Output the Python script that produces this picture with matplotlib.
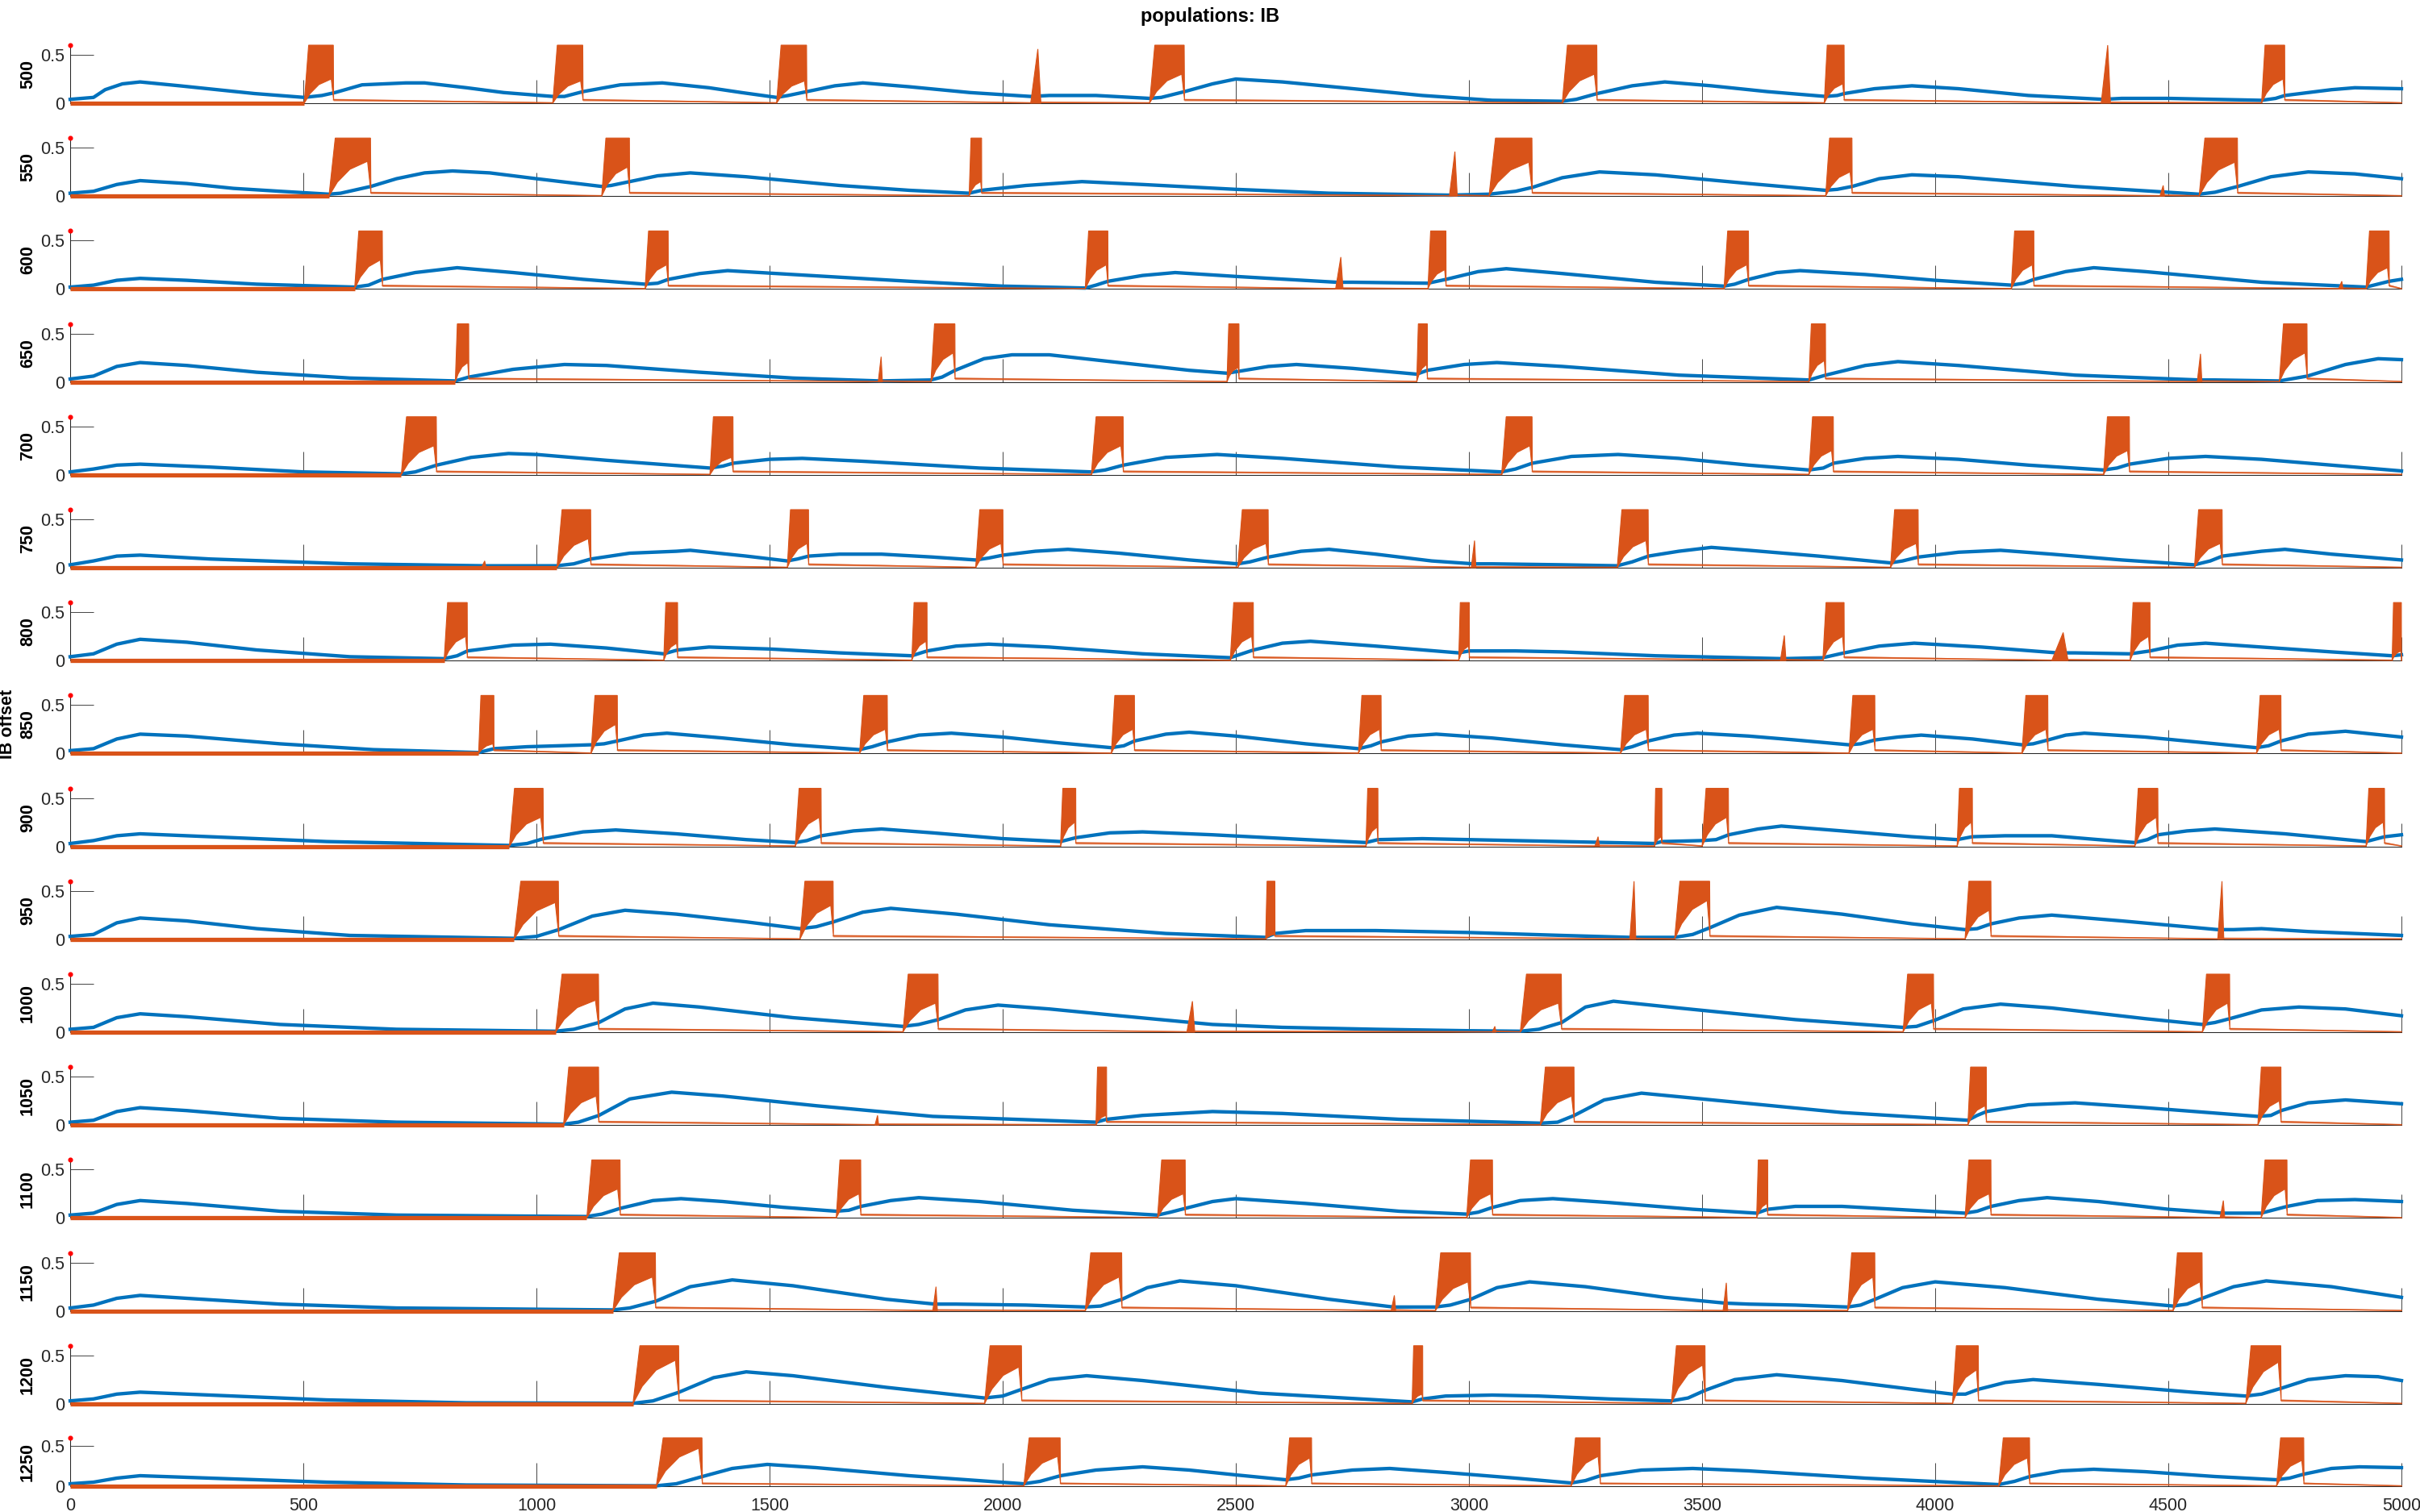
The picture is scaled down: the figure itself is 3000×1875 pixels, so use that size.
import matplotlib.pyplot as plt

plt.rcParams['font.family'] = ['Liberation Sans', 'DejaVu Sans']

BLUE = '#0072BD'
ORANGE = '#D95319'
AXIS = '#262626'
TOP = 0.6          # y limit; the bursts run past it and get cut
TAIL = 0.035       # orange level just after a full burst

offsets = [500, 550, 600, 650, 700, 750, 800, 850,
           900, 950, 1000, 1050, 1100, 1150, 1200, 1250]
x_ticks = list(range(0, 5001, 500))
y_ticks = [0, 0.5]

# bursts of the orange trace: (start ms, end ms, peak, lower envelope)
# lower envelope 0 means a single narrow spike
bursts_500 = [(502, 565, 0.6, 0.25), (1035, 1100, 0.6, 0.23), (1515, 1580, 0.6, 0.23),
              (2060, 2082, 0.56, 0), (2315, 2390, 0.6, 0.3), (3200, 3275, 0.6, 0.3),
              (3762, 3805, 0.6, 0.2), (4356, 4376, 0.6, 0), (4700, 4750, 0.6, 0.25)]
bursts_550 = [(555, 645, 0.6, 0.36), (1140, 1200, 0.6, 0.3), (1928, 1955, 0.6, 0.15),
              (2958, 2975, 0.46, 0), (3043, 3136, 0.6, 0.35), (3765, 3822, 0.6, 0.25),
              (4482, 4492, 0.11, 0), (4566, 4649, 0.6, 0.35)]
bursts_600 = [(610, 670, 0.6, 0.3), (1233, 1283, 0.6, 0.25), (2177, 2226, 0.6, 0.25),
              (2714, 2730, 0.33, 0), (2912, 2951, 0.6, 0.2), (3547, 3600, 0.6, 0.25),
              (4163, 4212, 0.6, 0.25), (4865, 4875, 0.08, 0), (4924, 4974, 0.6, 0.22)]
bursts_650 = [(826, 855, 0.6, 0.2), (1733, 1742, 0.26, 0), (1846, 1898, 0.6, 0.3),
              (2481, 2507, 0.6, 0.15), (2888, 2911, 0.6, 0.18), (3729, 3765, 0.6, 0.22),
              (4562, 4572, 0.29, 0), (4738, 4798, 0.6, 0.3)]
bursts_700 = [(710, 786, 0.6, 0.3), (1372, 1422, 0.6, 0.18), (2190, 2259, 0.6, 0.3),
              (3070, 3136, 0.6, 0.3), (3729, 3782, 0.6, 0.25), (4361, 4417, 0.6, 0.25)]
bursts_750 = [(882, 892, 0.07, 0), (1044, 1117, 0.6, 0.3), (1538, 1584, 0.6, 0.25),
              (1942, 2001, 0.6, 0.25), (2504, 2570, 0.6, 0.25), (3005, 3015, 0.28, 0),
              (3318, 3385, 0.6, 0.28), (3904, 3964, 0.6, 0.25), (4556, 4616, 0.6, 0.25)]
bursts_800 = [(802, 852, 0.6, 0.25), (1273, 1303, 0.6, 0.18), (1805, 1838, 0.6, 0.2),
              (2488, 2538, 0.6, 0.25), (2978, 3001, 0.6, 0.15), (3668, 3680, 0.26, 0),
              (3759, 3805, 0.6, 0.25), (4250, 4285, 0.29, 0), (4418, 4461, 0.6, 0.25),
              (4980, 5000, 0.6, 0.1)]
bursts_850 = [(876, 909, 0.6, 0.1), (1117, 1174, 0.6, 0.3), (1693, 1753, 0.6, 0.25),
              (2233, 2283, 0.6, 0.25), (2763, 2812, 0.6, 0.25), (3325, 3385, 0.6, 0.25),
              (3815, 3871, 0.6, 0.25), (4186, 4242, 0.6, 0.25), (4689, 4742, 0.6, 0.25)]
bursts_900 = [(942, 1015, 0.6, 0.3), (1555, 1611, 0.6, 0.3), (2124, 2157, 0.6, 0.25),
              (2779, 2805, 0.6, 0.2), (3270, 3280, 0.1, 0), (3398, 3414, 0.6, 0.1),
              (3500, 3557, 0.6, 0.3), (4047, 4080, 0.6, 0.25), (4428, 4478, 0.6, 0.3),
              (4924, 4964, 0.6, 0.25)]
bursts_950 = [(952, 1048, 0.6, 0.38), (1565, 1637, 0.6, 0.35), (2564, 2584, 0.6, 0.05),
              (3345, 3358, 0.6, 0), (3441, 3517, 0.6, 0.4), (4064, 4120, 0.6, 0.3),
              (4606, 4619, 0.6, 0)]
bursts_1000 = [(1041, 1134, 0.6, 0.33), (1786, 1862, 0.6, 0.3), (2395, 2412, 0.32, 0),
               (3050, 3058, 0.06, 0), (3110, 3199, 0.6, 0.3), (3931, 3997, 0.6, 0.3),
               (4573, 4632, 0.6, 0.3)]
bursts_1050 = [(1058, 1134, 0.6, 0.3), (1726, 1734, 0.1, 0), (2200, 2223, 0.6, 0.1),
               (3153, 3226, 0.6, 0.3), (4070, 4110, 0.6, 0.2), (4692, 4742, 0.6, 0.25)]
bursts_1100 = [(1108, 1180, 0.6, 0.3), (1643, 1696, 0.6, 0.25), (2332, 2392, 0.6, 0.25),
               (2995, 3051, 0.6, 0.25), (3617, 3641, 0.6, 0.15), (4064, 4120, 0.6, 0.25),
               (4611, 4621, 0.18, 0), (4699, 4755, 0.6, 0.3)]
bursts_1150 = [(1164, 1256, 0.6, 0.35), (1850, 1860, 0.25, 0), (2177, 2256, 0.6, 0.35),
               (2833, 2843, 0.16, 0), (2928, 3004, 0.6, 0.3), (3545, 3555, 0.29, 0),
               (3812, 3871, 0.6, 0.35), (4510, 4573, 0.6, 0.3)]
bursts_1200 = [(1207, 1306, 0.6, 0.45), (1961, 2041, 0.6, 0.38), (2878, 2901, 0.6, 0.1),
               (3434, 3507, 0.6, 0.4), (4037, 4093, 0.6, 0.35), (4666, 4742, 0.6, 0.43)]
bursts_1250 = [(1257, 1356, 0.6, 0.47), (2045, 2124, 0.6, 0.37), (2607, 2663, 0.6, 0.35),
               (3219, 3282, 0.6, 0.37), (4136, 4203, 0.6, 0.35), (4732, 4791, 0.6, 0.32)]

# blue trace, (ms, value)
blue_500 = [(0, 0.04), (50, 0.06), (75, 0.14), (112, 0.2), (150, 0.22), (235, 0.18),
            (315, 0.14), (395, 0.1), (502, 0.06), (540, 0.08), (568, 0.11), (626, 0.19),
            (720, 0.21), (760, 0.21), (850, 0.16), (930, 0.11), (1035, 0.07), (1060, 0.07),
            (1100, 0.12), (1180, 0.19), (1270, 0.21), (1370, 0.16), (1440, 0.11),
            (1515, 0.06), (1540, 0.08), (1580, 0.12), (1640, 0.18), (1700, 0.21),
            (1800, 0.17), (1930, 0.11), (2060, 0.07), (2100, 0.08), (2200, 0.08),
            (2315, 0.05), (2340, 0.06), (2390, 0.12), (2450, 0.2), (2500, 0.25),
            (2600, 0.22), (2730, 0.16), (2900, 0.08), (3050, 0.03), (3200, 0.02),
            (3230, 0.04), (3275, 0.1), (3350, 0.18), (3420, 0.22), (3520, 0.18),
            (3640, 0.12), (3765, 0.07), (3790, 0.08), (3805, 0.1), (3870, 0.15),
            (3950, 0.18), (4050, 0.15), (4200, 0.08), (4360, 0.04), (4400, 0.05),
            (4500, 0.05), (4700, 0.03), (4730, 0.05), (4750, 0.08), (4850, 0.14),
            (4900, 0.16), (5000, 0.15)]
blue_550 = [(0, 0.03), (50, 0.05), (100, 0.12), (150, 0.16), (250, 0.13), (350, 0.08),
            (450, 0.05), (555, 0.02), (580, 0.03), (645, 0.1), (700, 0.18), (760, 0.24),
            (820, 0.26), (900, 0.24), (1000, 0.18), (1140, 0.1), (1160, 0.11),
            (1200, 0.15), (1260, 0.21), (1330, 0.24), (1450, 0.2), (1650, 0.11),
            (1800, 0.06), (1928, 0.03), (1955, 0.06), (2050, 0.11), (2170, 0.15),
            (2300, 0.12), (2500, 0.07), (2700, 0.03), (2960, 0.01), (3043, 0.02),
            (3100, 0.05), (3136, 0.09), (3200, 0.19), (3280, 0.25), (3400, 0.22),
            (3600, 0.13), (3765, 0.06), (3790, 0.07), (3822, 0.1), (3880, 0.18),
            (3950, 0.22), (4050, 0.2), (4300, 0.1), (4566, 0.02), (4600, 0.04),
            (4649, 0.1), (4720, 0.2), (4800, 0.25), (4900, 0.23), (5000, 0.18)]
blue_600 = [(0, 0.02), (50, 0.04), (100, 0.09), (150, 0.11), (250, 0.09), (400, 0.05),
            (610, 0.02), (640, 0.04), (670, 0.1), (740, 0.17), (830, 0.22), (950, 0.17),
            (1100, 0.1), (1233, 0.05), (1260, 0.06), (1283, 0.1), (1350, 0.16),
            (1410, 0.19), (1550, 0.15), (1800, 0.08), (2000, 0.03), (2177, 0.01),
            (2200, 0.04), (2226, 0.08), (2300, 0.14), (2370, 0.17), (2500, 0.13),
            (2716, 0.07), (2750, 0.07), (2912, 0.06), (2951, 0.1), (3020, 0.18),
            (3080, 0.21), (3200, 0.16), (3400, 0.07), (3547, 0.03), (3570, 0.05),
            (3600, 0.1), (3660, 0.17), (3710, 0.19), (3850, 0.15), (4000, 0.09),
            (4163, 0.04), (4190, 0.06), (4212, 0.1), (4280, 0.18), (4340, 0.22),
            (4450, 0.18), (4700, 0.07), (4924, 0.02), (4974, 0.08), (5000, 0.1)]
blue_650 = [(0, 0.03), (50, 0.06), (100, 0.16), (150, 0.2), (250, 0.17), (400, 0.1),
            (600, 0.04), (826, 0.01), (855, 0.05), (950, 0.13), (1060, 0.18),
            (1150, 0.17), (1350, 0.1), (1550, 0.04), (1736, 0.01), (1846, 0.02),
            (1870, 0.05), (1898, 0.12), (1960, 0.24), (2020, 0.28), (2100, 0.28),
            (2250, 0.2), (2400, 0.12), (2481, 0.09), (2507, 0.11), (2570, 0.16),
            (2630, 0.18), (2750, 0.14), (2888, 0.08), (2911, 0.12), (2990, 0.18),
            (3060, 0.2), (3200, 0.16), (3450, 0.07), (3729, 0.02), (3765, 0.07),
            (3850, 0.17), (3920, 0.21), (4050, 0.17), (4300, 0.07), (4566, 0.02),
            (4600, 0.02), (4738, 0.01), (4798, 0.06), (4880, 0.18), (4950, 0.24),
            (5000, 0.23)]
blue_700 = [(0, 0.03), (50, 0.06), (100, 0.1), (150, 0.11), (300, 0.08), (500, 0.03),
            (710, 0.01), (740, 0.03), (786, 0.1), (860, 0.18), (940, 0.22), (1000, 0.21),
            (1150, 0.15), (1372, 0.07), (1400, 0.09), (1422, 0.12), (1500, 0.16),
            (1570, 0.17), (1700, 0.14), (1950, 0.07), (2190, 0.03), (2220, 0.05),
            (2259, 0.1), (2350, 0.18), (2460, 0.21), (2600, 0.17), (2850, 0.08),
            (3070, 0.03), (3100, 0.06), (3136, 0.12), (3220, 0.19), (3320, 0.21),
            (3450, 0.17), (3600, 0.1), (3729, 0.05), (3760, 0.07), (3782, 0.12),
            (3850, 0.17), (3920, 0.19), (4050, 0.16), (4200, 0.1), (4361, 0.05),
            (4390, 0.07), (4417, 0.11), (4500, 0.17), (4580, 0.19), (4700, 0.16),
            (4850, 0.1), (5000, 0.04)]
blue_750 = [(0, 0.03), (50, 0.07), (100, 0.12), (150, 0.13), (300, 0.09), (600, 0.04),
            (886, 0.02), (1044, 0.02), (1080, 0.04), (1117, 0.09), (1200, 0.15),
            (1300, 0.17), (1330, 0.18), (1450, 0.12), (1538, 0.07), (1560, 0.09),
            (1584, 0.12), (1650, 0.14), (1740, 0.14), (1850, 0.11), (1942, 0.08),
            (1970, 0.1), (2001, 0.13), (2070, 0.17), (2140, 0.19), (2250, 0.15),
            (2400, 0.08), (2504, 0.04), (2530, 0.06), (2570, 0.11), (2640, 0.17),
            (2700, 0.19), (2800, 0.14), (2920, 0.07), (3010, 0.04), (3050, 0.04),
            (3200, 0.03), (3318, 0.02), (3350, 0.06), (3385, 0.12), (3450, 0.17),
            (3520, 0.21), (3600, 0.18), (3750, 0.12), (3904, 0.05), (3930, 0.07),
            (3964, 0.11), (4050, 0.16), (4140, 0.18), (4250, 0.14), (4400, 0.08),
            (4556, 0.03), (4590, 0.07), (4616, 0.12), (4700, 0.17), (4750, 0.19),
            (4850, 0.14), (5000, 0.08)]
blue_800 = [(0, 0.04), (50, 0.07), (100, 0.17), (150, 0.22), (250, 0.19), (400, 0.11),
            (600, 0.04), (802, 0.02), (830, 0.05), (852, 0.1), (950, 0.16), (1030, 0.17),
            (1150, 0.13), (1273, 0.07), (1303, 0.11), (1370, 0.14), (1500, 0.12),
            (1650, 0.08), (1805, 0.05), (1838, 0.1), (1900, 0.15), (1970, 0.17),
            (2100, 0.14), (2300, 0.07), (2488, 0.03), (2538, 0.11), (2600, 0.18),
            (2660, 0.2), (2800, 0.15), (2978, 0.08), (3001, 0.1), (3100, 0.1),
            (3200, 0.09), (3400, 0.05), (3673, 0.02), (3759, 0.03), (3805, 0.08),
            (3880, 0.15), (3955, 0.18), (4100, 0.14), (4262, 0.08), (4300, 0.08),
            (4418, 0.07), (4461, 0.1), (4520, 0.16), (4580, 0.18), (4700, 0.14),
            (4850, 0.09), (4980, 0.05), (5000, 0.06)]
blue_850 = [(0, 0.03), (50, 0.05), (100, 0.15), (150, 0.2), (250, 0.18), (450, 0.1),
            (650, 0.04), (876, 0.01), (909, 0.05), (980, 0.07), (1050, 0.08),
            (1117, 0.09), (1145, 0.1), (1174, 0.13), (1230, 0.19), (1280, 0.21),
            (1400, 0.16), (1550, 0.09), (1693, 0.04), (1720, 0.07), (1753, 0.12),
            (1820, 0.19), (1890, 0.21), (2000, 0.17), (2120, 0.11), (2233, 0.06),
            (2260, 0.08), (2283, 0.13), (2350, 0.2), (2400, 0.22), (2500, 0.18),
            (2650, 0.1), (2763, 0.05), (2790, 0.08), (2812, 0.12), (2870, 0.18),
            (2930, 0.2), (3050, 0.16), (3200, 0.09), (3325, 0.04), (3350, 0.07),
            (3385, 0.13), (3440, 0.19), (3490, 0.21), (3600, 0.18), (3700, 0.14),
            (3815, 0.09), (3840, 0.1), (3871, 0.14), (3920, 0.17), (3970, 0.19),
            (4080, 0.15), (4186, 0.09), (4210, 0.1), (4242, 0.14), (4280, 0.19),
            (4320, 0.21), (4450, 0.17), (4580, 0.11), (4689, 0.06), (4715, 0.08),
            (4742, 0.13), (4800, 0.2), (4880, 0.23), (5000, 0.17)]
blue_900 = [(0, 0.03), (50, 0.06), (100, 0.11), (150, 0.13), (300, 0.1), (550, 0.05),
            (942, 0.01), (980, 0.03), (1015, 0.08), (1100, 0.15), (1170, 0.17),
            (1300, 0.13), (1450, 0.07), (1555, 0.04), (1580, 0.06), (1611, 0.11),
            (1680, 0.16), (1740, 0.18), (1850, 0.14), (2000, 0.08), (2124, 0.05),
            (2157, 0.09), (2230, 0.14), (2300, 0.15), (2450, 0.12), (2650, 0.07),
            (2779, 0.04), (2805, 0.07), (2900, 0.08), (3000, 0.07), (3200, 0.05),
            (3398, 0.03), (3414, 0.05), (3500, 0.06), (3530, 0.07), (3557, 0.12),
            (3620, 0.18), (3670, 0.21), (3800, 0.16), (3950, 0.1), (4047, 0.07),
            (4080, 0.1), (4150, 0.11), (4250, 0.11), (4350, 0.07), (4428, 0.04),
            (4455, 0.07), (4478, 0.12), (4540, 0.16), (4600, 0.18), (4750, 0.13),
            (4924, 0.05), (4964, 0.1), (5000, 0.12)]
blue_950 = [(0, 0.03), (50, 0.05), (100, 0.17), (150, 0.22), (250, 0.19), (400, 0.11),
            (600, 0.04), (952, 0.01), (1000, 0.03), (1048, 0.1), (1120, 0.24),
            (1190, 0.3), (1300, 0.26), (1450, 0.18), (1565, 0.11), (1600, 0.13),
            (1637, 0.18), (1700, 0.28), (1760, 0.32), (1900, 0.26), (2100, 0.15),
            (2350, 0.06), (2564, 0.02), (2584, 0.06), (2650, 0.09), (2800, 0.09),
            (3000, 0.07), (3200, 0.04), (3345, 0.02), (3441, 0.02), (3480, 0.05),
            (3517, 0.12), (3580, 0.25), (3660, 0.33), (3800, 0.26), (3950, 0.16),
            (4064, 0.1), (4090, 0.11), (4120, 0.16), (4180, 0.22), (4250, 0.25),
            (4400, 0.19), (4606, 0.1), (4640, 0.1), (4700, 0.11), (4800, 0.08),
            (5000, 0.04)]
blue_1000 = [(0, 0.03), (50, 0.05), (100, 0.15), (150, 0.19), (250, 0.16), (450, 0.08),
             (700, 0.03), (1041, 0.01), (1080, 0.03), (1134, 0.1), (1190, 0.24),
             (1250, 0.3), (1350, 0.26), (1550, 0.15), (1786, 0.06), (1820, 0.08),
             (1862, 0.13), (1920, 0.23), (1990, 0.28), (2100, 0.24), (2250, 0.17),
             (2405, 0.1), (2450, 0.08), (2600, 0.05), (2800, 0.03), (3000, 0.015),
             (3110, 0.01), (3150, 0.03), (3199, 0.1), (3250, 0.26), (3310, 0.32),
             (3450, 0.25), (3700, 0.13), (3931, 0.05), (3960, 0.06), (3997, 0.12),
             (4060, 0.24), (4140, 0.29), (4250, 0.25), (4450, 0.14), (4573, 0.08),
             (4600, 0.1), (4632, 0.14), (4700, 0.23), (4780, 0.26), (4880, 0.24),
             (5000, 0.17)]
blue_1050 = [(0, 0.03), (50, 0.05), (100, 0.14), (150, 0.18), (250, 0.15), (450, 0.07),
             (700, 0.03), (1058, 0.01), (1090, 0.03), (1134, 0.1), (1200, 0.27),
             (1290, 0.34), (1400, 0.3), (1600, 0.2), (1850, 0.09), (2200, 0.03),
             (2223, 0.06), (2300, 0.1), (2450, 0.14), (2600, 0.12), (2850, 0.06),
             (3153, 0.02), (3190, 0.03), (3226, 0.1), (3290, 0.26), (3370, 0.33),
             (3500, 0.27), (3800, 0.13), (4070, 0.05), (4090, 0.1), (4110, 0.14),
             (4200, 0.21), (4300, 0.23), (4450, 0.18), (4692, 0.09), (4720, 0.1),
             (4742, 0.15), (4800, 0.23), (4880, 0.26), (5000, 0.22)]
blue_1100 = [(0, 0.03), (50, 0.05), (100, 0.14), (150, 0.18), (250, 0.15), (450, 0.07),
             (700, 0.03), (1108, 0.015), (1140, 0.04), (1180, 0.1), (1250, 0.18),
             (1310, 0.2), (1400, 0.17), (1530, 0.11), (1643, 0.07), (1670, 0.08),
             (1696, 0.12), (1760, 0.18), (1820, 0.21), (1950, 0.17), (2150, 0.08),
             (2332, 0.03), (2360, 0.06), (2392, 0.1), (2450, 0.17), (2500, 0.2),
             (2650, 0.15), (2850, 0.07), (2995, 0.04), (3020, 0.06), (3051, 0.11),
             (3110, 0.18), (3180, 0.2), (3300, 0.16), (3480, 0.09), (3617, 0.05),
             (3641, 0.09), (3700, 0.12), (3800, 0.12), (3950, 0.08), (4064, 0.05),
             (4090, 0.07), (4120, 0.12), (4180, 0.18), (4240, 0.21), (4350, 0.17),
             (4500, 0.09), (4616, 0.05), (4699, 0.05), (4755, 0.12), (4820, 0.18),
             (4900, 0.19), (5000, 0.17)]
blue_1150 = [(0, 0.03), (50, 0.06), (100, 0.13), (150, 0.16), (250, 0.13), (450, 0.07),
             (700, 0.03), (1164, 0.01), (1200, 0.03), (1256, 0.1), (1330, 0.25),
             (1420, 0.32), (1550, 0.26), (1750, 0.12), (1855, 0.07), (1900, 0.07),
             (2050, 0.06), (2177, 0.04), (2210, 0.05), (2256, 0.12), (2310, 0.24),
             (2380, 0.31), (2500, 0.26), (2700, 0.12), (2838, 0.04), (2870, 0.04),
             (2928, 0.04), (2960, 0.06), (3004, 0.12), (3060, 0.24), (3130, 0.3),
             (3250, 0.25), (3420, 0.14), (3550, 0.08), (3600, 0.07), (3700, 0.06),
             (3812, 0.04), (3840, 0.06), (3871, 0.12), (3930, 0.24), (4000, 0.3),
             (4150, 0.24), (4350, 0.12), (4510, 0.05), (4540, 0.07), (4573, 0.13),
             (4640, 0.25), (4710, 0.31), (4850, 0.25), (5000, 0.14)]
blue_1200 = [(0, 0.03), (50, 0.05), (100, 0.1), (150, 0.12), (300, 0.09), (550, 0.04),
             (850, 0.01), (1207, 0.005), (1250, 0.03), (1306, 0.12), (1380, 0.27),
             (1450, 0.33), (1550, 0.29), (1750, 0.17), (1961, 0.06), (2000, 0.08),
             (2041, 0.15), (2100, 0.25), (2180, 0.29), (2300, 0.24), (2550, 0.11),
             (2878, 0.02), (2901, 0.05), (2950, 0.08), (3050, 0.09), (3150, 0.08),
             (3300, 0.05), (3434, 0.03), (3470, 0.06), (3507, 0.14), (3570, 0.25),
             (3660, 0.3), (3800, 0.24), (3950, 0.15), (4037, 0.1), (4065, 0.1),
             (4093, 0.15), (4150, 0.22), (4210, 0.25), (4350, 0.2), (4550, 0.12),
             (4666, 0.08), (4700, 0.1), (4742, 0.16), (4800, 0.25), (4880, 0.29),
             (4950, 0.28), (5000, 0.24)]
blue_1250 = [(0, 0.03), (50, 0.05), (100, 0.1), (150, 0.13), (300, 0.1), (550, 0.05),
             (850, 0.015), (1257, 0.005), (1300, 0.03), (1356, 0.12), (1420, 0.22),
             (1495, 0.27), (1600, 0.23), (1800, 0.13), (2045, 0.03), (2080, 0.06),
             (2124, 0.13), (2200, 0.2), (2300, 0.24), (2400, 0.2), (2500, 0.14),
             (2607, 0.08), (2635, 0.1), (2663, 0.14), (2750, 0.2), (2830, 0.22),
             (2950, 0.17), (3100, 0.1), (3219, 0.04), (3250, 0.07), (3282, 0.13),
             (3370, 0.2), (3480, 0.22), (3600, 0.19), (3850, 0.1), (4136, 0.02),
             (4170, 0.06), (4203, 0.12), (4270, 0.19), (4340, 0.21), (4450, 0.18),
             (4600, 0.12), (4732, 0.08), (4760, 0.1), (4791, 0.15), (4850, 0.22),
             (4910, 0.24), (5000, 0.23)]

rows = [(500, blue_500, bursts_500), (550, blue_550, bursts_550),
        (600, blue_600, bursts_600), (650, blue_650, bursts_650),
        (700, blue_700, bursts_700), (750, blue_750, bursts_750),
        (800, blue_800, bursts_800), (850, blue_850, bursts_850),
        (900, blue_900, bursts_900), (950, blue_950, bursts_950),
        (1000, blue_1000, bursts_1000), (1050, blue_1050, bursts_1050),
        (1100, blue_1100, bursts_1100), (1150, blue_1150, bursts_1150),
        (1200, blue_1200, bursts_1200), (1250, blue_1250, bursts_1250)]


def burst_outline(t0, t1, peak, low):
    """Outline of one orange burst: dense oscillation between the lower envelope and the top."""
    w = t1 - t0
    top = min(peak, TOP)
    if low == 0:
        # narrow single spike
        return [t0, t0 + 0.7 * w, t1], [0, top, 0]
    xs = [t0, t0 + 0.15 * w, t1 - 0.01 * w, t1, t1 - 0.08 * w, t0 + 0.5 * w, t0 + 0.2 * w]
    ys = [0, top, top, TAIL, low, 0.77 * low, 0.4 * low]
    return xs, ys


def draw_row(ax, blue, bursts):
    ax.set_xlim(0, 5000)
    ax.set_ylim(0, TOP)

    # blue trace
    bt = [p[0] for p in blue]
    bv = [p[1] for p in blue]
    ax.plot(bt, bv, color=BLUE, lw=3.1, zorder=3, clip_on=False, solid_joinstyle='round')

    # orange: flat thick line until the first full burst
    first = min(b[0] for b in bursts if b[2] >= TOP)
    ax.plot([0, first], [0, 0], color=ORANGE, lw=3.8, zorder=4, clip_on=False,
            solid_capstyle='butt')

    # orange: bursts and the fuzzy decaying tail that follows each one
    starts = [b[0] for b in bursts] + [5000]
    for i, (t0, t1, peak, low) in enumerate(bursts):
        xs, ys = burst_outline(t0, t1, peak, low)
        ax.fill(xs, ys, color=ORANGE, lw=0.8, zorder=5, clip_on=False)
        if t1 < first:
            continue
        tail = TAIL if low > 0 else 0.008
        nxt = starts[i + 1]
        ax.fill([t1, nxt, nxt, t1], [tail + 0.01, 0.008, 0.0, max(tail - 0.015, 0.0)],
                color=ORANGE, alpha=0.55, lw=0, zorder=4, clip_on=False)
        ax.plot([t1, nxt], [tail, 0.004], color=ORANGE, lw=1.2, alpha=0.9,
                zorder=4, clip_on=False)

    # small red marker at the top-left corner
    ax.plot([0], [TOP], 'o', color='red', ms=3.4, clip_on=False, zorder=6)

    # MATLAB-like axes: box off, inward ticks
    ax.spines['top'].set_visible(False)
    ax.spines['right'].set_visible(False)
    for s in ('left', 'bottom'):
        ax.spines[s].set_linewidth(0.75)
        ax.spines[s].set_color(AXIS)
    ax.set_xticks(x_ticks)
    ax.set_yticks(y_ticks)
    ax.set_yticklabels(['0', '0.5'])
    ax.tick_params(direction='in', length=20.8, width=0.6, color=AXIS,
                   labelcolor=AXIS, labelsize=15.5)
    ax.tick_params(axis='y', pad=5)
    ax.tick_params(axis='x', pad=10)


fig = plt.figure(figsize=(30, 18.75), dpi=100)
W, H = 3000.0, 1875.0
left, width = 87 / W, 2890 / W

for i, (offset, blue, bursts) in enumerate(rows):
    if i < 15:
        bottom_px, height_px = 128 + 115.2 * i, 72
    else:
        bottom_px, height_px = 1843, 60
    ax = fig.add_axes([left, 1 - bottom_px / H, width, height_px / H])
    draw_row(ax, blue, bursts)

    if i < 15:
        ax.set_xticklabels([])
    label = 'IB offset\n%d' % offset if offset == 850 else str(offset)
    ax.set_ylabel(label, fontsize=15.5, fontweight='bold', linespacing=1.25,
                  multialignment='center', color='black')
    ax.yaxis.set_label_coords(-0.0145, 0.5)

fig.text(0.5, 1 - 21 / H, 'populations: IB', ha='center', va='center',
         fontsize=17, fontweight='bold')

fig.savefig('out.png', dpi=100)
